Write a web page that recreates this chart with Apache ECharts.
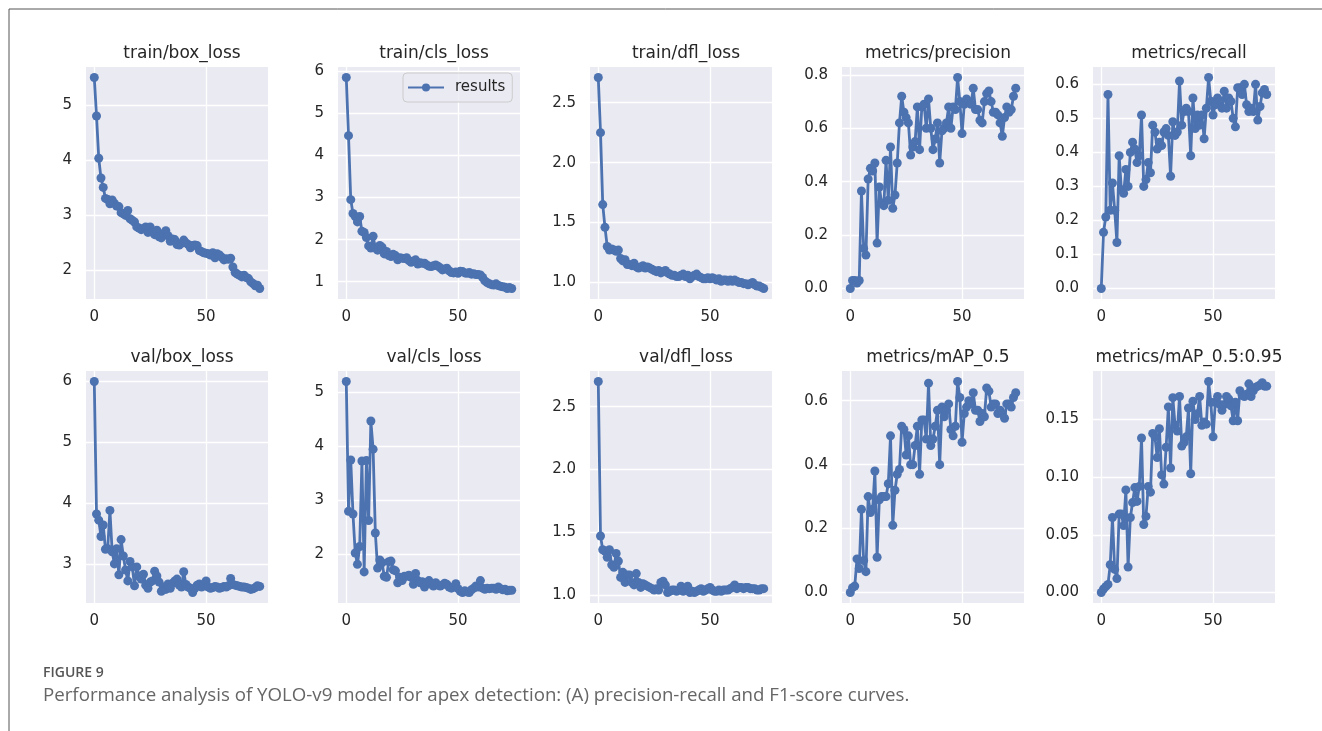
<!DOCTYPE html>
<html>
<head>
<meta charset="utf-8">
<script src="https://cdn.jsdelivr.net/npm/echarts@6/dist/echarts.min.js"></script>
<style>
html,body{margin:0;padding:0;background:#fff;}
#chart{width:1322px;height:731px;}
</style>
</head>
<body>
<div id="chart"></div>
<script>
// ---------- DATA ----------
const titles = ["train/box_loss","train/cls_loss","train/dfl_loss","metrics/precision","metrics/recall",
                "val/box_loss","val/cls_loss","val/dfl_loss","metrics/mAP_0.5","metrics/mAP_0.5:0.95"];

const trainBoxLoss = [5.50,4.80,4.03,3.67,3.50,3.30,3.28,3.20,3.27,3.21,3.16,3.15,3.04,3.02,2.99,3.08,2.93,2.90,2.87,2.78,
  2.76,2.73,2.75,2.78,2.68,2.78,2.70,2.64,2.72,2.60,2.58,2.66,2.71,2.62,2.52,2.56,2.55,2.46,2.45,2.48,
  2.54,2.49,2.46,2.40,2.44,2.45,2.44,2.35,2.33,2.31,2.30,2.29,2.27,2.31,2.22,2.29,2.27,2.23,2.18,2.20,
  2.19,2.21,2.05,1.95,1.92,1.90,1.87,1.90,1.86,1.84,1.78,1.75,1.71,1.72,1.66];
const trainClsLoss = [5.85,4.47,2.95,2.62,2.55,2.42,2.55,2.20,2.17,2.05,1.85,1.80,2.08,1.80,1.75,1.86,1.82,1.66,1.72,1.62,
  1.60,1.65,1.62,1.52,1.57,1.56,1.55,1.57,1.50,1.46,1.49,1.52,1.42,1.45,1.44,1.44,1.40,1.37,1.36,1.38,
  1.40,1.37,1.33,1.28,1.30,1.32,1.26,1.22,1.21,1.23,1.20,1.25,1.24,1.21,1.20,1.22,1.18,1.19,1.17,1.17,
  1.16,1.10,1.02,0.98,0.95,0.93,0.92,0.95,0.91,0.89,0.88,0.87,0.84,0.86,0.84];
const trainDflLoss = [2.71,2.25,1.65,1.46,1.30,1.27,1.28,1.27,1.26,1.27,1.20,1.18,1.19,1.15,1.15,1.14,1.16,1.13,1.12,1.13,
  1.14,1.12,1.13,1.12,1.11,1.10,1.09,1.10,1.08,1.09,1.10,1.08,1.07,1.06,1.06,1.05,1.05,1.06,1.07,1.05,
  1.06,1.03,1.05,1.06,1.07,1.05,1.04,1.03,1.03,1.04,1.03,1.04,1.03,1.02,1.03,1.01,1.02,1.02,1.01,1.02,
  1.01,1.02,1.01,1.00,1.00,0.99,0.99,0.98,0.99,1.00,0.98,0.97,0.97,0.96,0.95];
const precision = [0.00,0.03,0.03,0.02,0.03,0.365,0.15,0.125,0.41,0.45,0.44,0.47,0.17,0.38,0.32,0.31,0.48,0.33,0.53,0.30,
  0.35,0.47,0.62,0.72,0.66,0.64,0.62,0.50,0.53,0.55,0.68,0.52,0.68,0.69,0.60,0.71,0.60,0.52,0.56,0.62,
  0.47,0.59,0.60,0.62,0.68,0.60,0.68,0.67,0.79,0.70,0.58,0.69,0.71,0.70,0.69,0.75,0.67,0.67,0.63,0.62,
  0.70,0.73,0.74,0.70,0.66,0.66,0.65,0.62,0.57,0.64,0.68,0.66,0.67,0.72,0.75];
const recall = [0.00,0.165,0.21,0.57,0.23,0.31,0.23,0.135,0.39,0.29,0.28,0.35,0.30,0.40,0.43,0.41,0.37,0.39,0.51,0.30,
  0.32,0.37,0.34,0.48,0.46,0.41,0.43,0.42,0.46,0.47,0.45,0.33,0.49,0.45,0.46,0.61,0.48,0.52,0.53,0.52,
  0.39,0.56,0.47,0.51,0.48,0.51,0.44,0.53,0.62,0.55,0.51,0.54,0.56,0.55,0.53,0.58,0.53,0.56,0.55,0.50,
  0.475,0.59,0.59,0.57,0.60,0.54,0.52,0.53,0.52,0.60,0.495,0.535,0.575,0.585,0.57];
const valBoxLoss = [6.00,3.82,3.72,3.45,3.64,3.24,3.25,3.88,3.20,3.00,3.25,2.82,3.40,3.13,2.90,2.72,3.04,2.95,2.64,2.95,
  2.80,2.75,2.83,2.65,2.60,2.70,2.72,2.88,2.80,2.70,2.55,2.62,2.58,2.67,2.60,2.68,2.72,2.75,2.65,2.62,
  2.87,2.66,2.62,2.60,2.53,2.60,2.65,2.67,2.62,2.66,2.72,2.62,2.60,2.61,2.63,2.62,2.60,2.61,2.63,2.62,
  2.64,2.76,2.66,2.65,2.64,2.63,2.62,2.62,2.61,2.60,2.58,2.59,2.61,2.64,2.63];
const valClsLoss = [5.20,2.80,3.75,2.75,2.03,1.82,2.15,3.73,1.68,3.74,2.63,4.47,3.95,2.40,1.75,1.90,1.85,1.60,1.58,1.87,
  1.88,1.72,1.70,1.48,1.58,1.52,1.60,1.60,1.62,1.58,1.45,1.65,1.52,1.48,1.50,1.40,1.48,1.52,1.45,1.42,
  1.48,1.44,1.42,1.44,1.47,1.45,1.40,1.38,1.40,1.46,1.37,1.32,1.30,1.33,1.31,1.30,1.35,1.38,1.42,1.40,
  1.52,1.38,1.36,1.38,1.37,1.38,1.38,1.36,1.40,1.37,1.35,1.36,1.33,1.34,1.34];
const valDflLoss = [2.70,1.47,1.36,1.35,1.30,1.36,1.24,1.22,1.33,1.27,1.14,1.18,1.10,1.16,1.16,1.10,1.08,1.17,1.10,1.06,
  1.09,1.08,1.07,1.06,1.05,1.04,1.05,1.04,1.10,1.11,1.08,1.02,1.03,1.04,1.04,1.03,1.04,1.07,1.03,1.05,
  1.07,1.02,1.03,1.02,1.03,1.04,1.05,1.03,1.04,1.05,1.06,1.04,1.03,1.03,1.04,1.03,1.04,1.04,1.04,1.05,
  1.06,1.08,1.05,1.06,1.06,1.05,1.06,1.06,1.05,1.05,1.05,1.04,1.04,1.05,1.05];
const mAP50 = [0.00,0.015,0.02,0.105,0.075,0.26,0.10,0.065,0.30,0.25,0.26,0.38,0.11,0.29,0.30,0.30,0.30,0.34,0.49,0.21,
  0.32,0.37,0.385,0.52,0.51,0.43,0.49,0.40,0.40,0.46,0.52,0.37,0.54,0.54,0.48,0.655,0.46,0.48,0.52,0.57,
  0.40,0.58,0.55,0.57,0.59,0.51,0.49,0.52,0.66,0.61,0.47,0.56,0.58,0.60,0.59,0.625,0.57,0.57,0.535,0.56,
  0.55,0.64,0.63,0.58,0.59,0.59,0.56,0.57,0.56,0.545,0.59,0.59,0.58,0.61,0.625];
const mAP5095 = [0.000,0.003,0.005,0.007,0.024,0.065,0.020,0.012,0.068,0.068,0.058,0.089,0.022,0.065,0.078,0.091,0.079,0.092,0.134,0.059,
  0.066,0.092,0.087,0.138,0.135,0.117,0.142,0.102,0.094,0.126,0.161,0.108,0.169,0.145,0.140,0.170,0.127,0.130,0.135,0.160,
  0.103,0.166,0.150,0.155,0.170,0.145,0.148,0.146,0.183,0.165,0.135,0.165,0.170,0.163,0.158,0.163,0.170,0.168,0.162,0.149,
  0.165,0.149,0.175,0.171,0.170,0.172,0.181,0.170,0.175,0.178,0.179,0.180,0.182,0.179,0.179];

const seriesValues = [trainBoxLoss,trainClsLoss,trainDflLoss,precision,recall,valBoxLoss,valClsLoss,valDflLoss,mAP50,mAP5095];

const xTicks = [0, 50];
const yTicks = [[2,3,4,5],[1,2,3,4,5,6],[1.0,1.5,2.0,2.5],[0.0,0.2,0.4,0.6,0.8],[0.0,0.1,0.2,0.3,0.4,0.5,0.6],
                [3,4,5,6],[2,3,4,5],[1.0,1.5,2.0,2.5],[0.0,0.2,0.4,0.6],[0.00,0.05,0.10,0.15]];
const yDecimals = [0,0,1,1,1,0,0,1,1,2];

// ---------- LAYOUT ----------
const colLeft = [86, 338, 590, 842, 1093];
const rowTop = [67, 371];
const plotW = 182, plotH = 232;
const lineColor = '#4C72B0';
const textColor = '#262626';
const font = '"DejaVu Sans", Verdana, sans-serif';

function pad(vals){
  const mn = Math.min(...vals), mx = Math.max(...vals);
  const m = (mx - mn) * 0.05;
  return [mn - m, mx + m];
}
const xMin = -3.7, xMax = 77.7;

const grids = [], xAxes = [], yAxes = [], series = [], titleArr = [];
for (let i = 0; i < 10; i++) {
  const r = Math.floor(i / 5), c = i % 5;
  const left = colLeft[c], top = rowTop[r];
  grids.push({left: left, top: top, width: plotW, height: plotH, show: true,
    backgroundColor: '#EAEAF2', borderWidth: 0, containLabel: false});
  xAxes.push({type: 'value', gridIndex: i, min: xMin, max: xMax,
    axisLine: {show: false}, axisTick: {show: false, customValues: xTicks},
    axisLabel: {customValues: xTicks, fontSize: 15, color: textColor, fontFamily: font, margin: 11},
    splitLine: {show: true, lineStyle: {color: '#ffffff', width: 1.3}}});
  const yl = pad(seriesValues[i]);
  const dec = yDecimals[i];
  yAxes.push({type: 'value', gridIndex: i, min: yl[0], max: yl[1],
    axisLine: {show: false}, axisTick: {show: false, customValues: yTicks[i]},
    axisLabel: {customValues: yTicks[i], fontSize: 15, color: textColor, fontFamily: font, margin: 14,
      formatter: (v) => Number(v).toFixed(dec)},
    splitLine: {show: true, lineStyle: {color: '#ffffff', width: 1.3}}});
  series.push({name: 'results', type: 'line', xAxisIndex: i, yAxisIndex: i,
    data: seriesValues[i].map((v, k) => [k, v]),
    symbol: 'circle', symbolSize: 9, showAllSymbol: true,
    lineStyle: {color: lineColor, width: 2.8}, itemStyle: {color: lineColor},
    emphasis: {disabled: true}, animation: false, clip: false});
  titleArr.push({text: titles[i], left: left + plotW / 2, top: r === 0 ? 40 : 344, textAlign: 'center',
    textStyle: {fontSize: 17, fontWeight: 'normal', color: textColor, fontFamily: font}});
}

const option = {
  backgroundColor: '#ffffff',
  animation: false,
  title: titleArr,
  grid: grids,
  xAxis: xAxes,
  yAxis: yAxes,
  series: series,
  legend: {data: ['results'], left: 403, top: 73, orient: 'vertical',
    backgroundColor: 'rgba(234,234,242,0.8)', borderColor: '#cccccc', borderWidth: 1, borderRadius: 4,
    padding: [7, 7, 7, 4], itemWidth: 36, itemHeight: 10, itemGap: 6,
    textStyle: {fontSize: 15, color: textColor, fontFamily: font, padding: [0, 0, 0, 6]}},
  graphic: [
    {type: 'line', shape: {x1: 9, y1: 9, x2: 1322, y2: 9}, style: {stroke: '#555', lineWidth: 1}},
    {type: 'line', shape: {x1: 9, y1: 9, x2: 9, y2: 731}, style: {stroke: '#555', lineWidth: 1}},
    {type: 'text', left: 43, top: 666, style: {text: 'FIGURE 9', font: '600 14px "Open Sans"', fill: '#555'}},
    {type: 'text', left: 43, top: 686, style: {text: 'Performance analysis of YOLO-v9 model for apex detection: (A) precision-recall and F1-score curves.', font: '18.7px "Open Sans"', fill: '#666'}}
  ]
};

const chart = echarts.init(document.getElementById('chart'), null, {renderer: 'canvas'});
chart.setOption(option);
</script>
</body>
</html>
